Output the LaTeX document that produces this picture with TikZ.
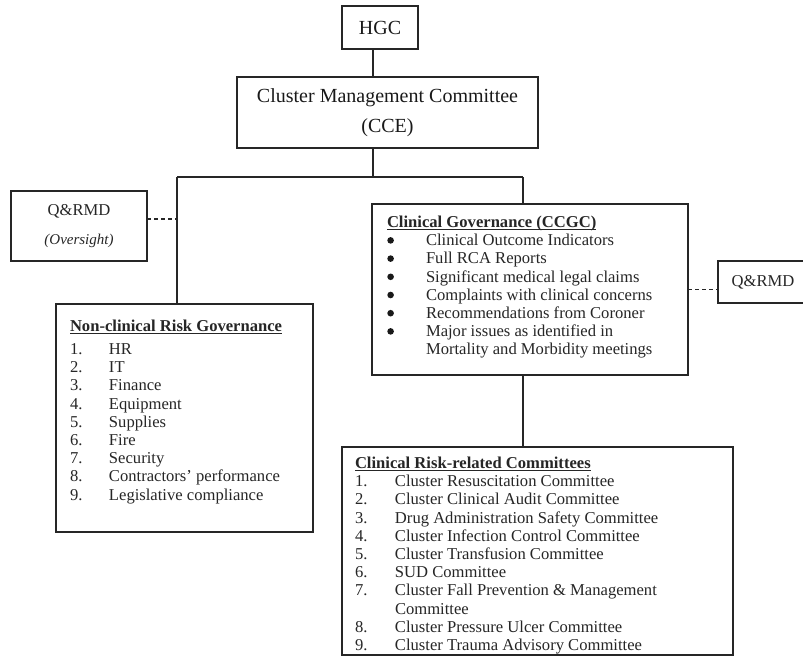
\documentclass[tikz,border=0pt]{standalone}
\usepackage{fontspec}
\setmainfont{Liberation Serif}
\usetikzlibrary{calc}

% bold heading with a solid rule under it
\newcommand\headul[1]{\setbox0\hbox{\bfseries #1}\rlap{\rule[-2.4bp]{\wd0}{1.1bp}}\box0}
% fixed-width label column for numbered and bulleted lists
\newcommand\lab[2]{\makebox[#1][l]{#2}}
\newcommand\firstline{\rule{0pt}{13bp}}

\begin{document}
\begin{tikzpicture}[x=1bp,y=-1bp,
  box/.style={draw=black!85, line width=1.9bp, fill=white, inner sep=0pt, outer sep=0pt, anchor=north west},
  link/.style={draw=black!85, line width=1.5bp},
  dashlink/.style={link, dash pattern=on 4bp off 3bp},
  body/.style={inner sep=0pt, outer sep=0pt, anchor=north west, align=left, text=black!85,
    font=\fontsize{16.6bp}{18.2bp}\selectfont},
  title/.style={align=center, text=black!90, font=\fontsize{20bp}{30bp}\selectfont},
  dot/.style={fill=black!90},
]
\useasboundingbox (0,0) rectangle (803,659);
\clip (0,0) rectangle (803,659);

% junction points of the tree
\coordinate (spine) at (373,177);
\coordinate (lx) at (177,177);
\coordinate (rx) at (523,177);
\coordinate (qlj) at (177,219);

% connectors
\draw[link] (lx) -- (rx);

% boxes
\node[box, title, minimum width=76bp, minimum height=43bp] (hgc) at (342,6) {HGC};
\node[box, title, minimum width=301bp, minimum height=71bp] (cmc) at (237,77)
  {Cluster Management Committee\\(CCE)};
\node[box, align=center, text=black!85, minimum width=136bp, minimum height=70bp,
  font=\fontsize{16.6bp}{29bp}\selectfont] (ql) at (11,191)
  {Q\&RMD\\{\itshape\fontsize{15bp}{29bp}\selectfont(Oversight)}};
\node[box, text=black!85, minimum width=90bp, minimum height=42bp,
  font=\fontsize{16.6bp}{18.2bp}\selectfont] (qr) at (718,261) {Q\&RMD};
\node[box, minimum width=257bp, minimum height=228bp] (nc) at (56,304) {};
\node[box, minimum width=316bp, minimum height=171bp] (cg) at (372,204) {};
\node[box, minimum width=391bp, minimum height=208bp] (cr) at (342,447) {};

\draw[link] (hgc.south -| spine) -- (cmc.north -| spine);
\draw[link] (cmc.south -| spine) -- (spine);
\draw[link] (lx) -- (nc.north -| lx);
\draw[link] (rx) -- (cg.north -| rx);
\draw[link] (cg.south -| rx) -- (cr.north -| rx);
\draw[dashlink] (qlj -| ql.east) -- (qlj);
\draw[dashlink] (cg.east) -- (cg.east -| qr.west);

% box contents
\node[body] (nctext) at ($(nc.north west)+(14,14.5)$) {\firstline\headul{Non-clinical Risk Governance}\\[4.8bp]
  \lab{39bp}{1.}HR\\
  \lab{39bp}{2.}IT\\
  \lab{39bp}{3.}Finance\\
  \lab{39bp}{4.}Equipment\\
  \lab{39bp}{5.}Supplies\\
  \lab{39bp}{6.}Fire\\
  \lab{39bp}{7.}Security\\
  \lab{39bp}{8.}Contractors’ performance\\
  \lab{39bp}{9.}Legislative compliance};

\node[body] (cgtext) at ($(cg.north west)+(15,10.5)$) {\firstline\headul{Clinical Governance (CCGC)}\\
  \lab{39bp}{}Clinical Outcome Indicators\\
  \lab{39bp}{}Full RCA Reports\\
  \lab{39bp}{}Significant medical legal claims\\
  \lab{39bp}{}Complaints with clinical concerns\\
  \lab{39bp}{}Recommendations from Coroner\\
  \lab{39bp}{}Major issues as identified in\\
  \lab{39bp}{}Mortality and Morbidity meetings};
% list bullets
\foreach \k in {1,...,6}
  \fill[dot] ($(cgtext.north west)+(3.6,13+18.2*\k-5.3)$) circle (3.3bp);

\node[body] (crtext) at ($(cr.north west)+(13,8.5)$) {\firstline\headul{Clinical Risk-related Committees}\\
  \lab{40bp}{1.}Cluster Resuscitation Committee\\
  \lab{40bp}{2.}Cluster Clinical Audit Committee\\
  \lab{40bp}{3.}Drug Administration Safety Committee\\
  \lab{40bp}{4.}Cluster Infection Control Committee\\
  \lab{40bp}{5.}Cluster Transfusion Committee\\
  \lab{40bp}{6.}SUD Committee\\
  \lab{40bp}{7.}Cluster Fall Prevention \& Management\\
  \lab{40bp}{}Committee\\
  \lab{40bp}{8.}Cluster Pressure Ulcer Committee\\
  \lab{40bp}{9.}Cluster Trauma Advisory Committee};
\end{tikzpicture}
\end{document}
